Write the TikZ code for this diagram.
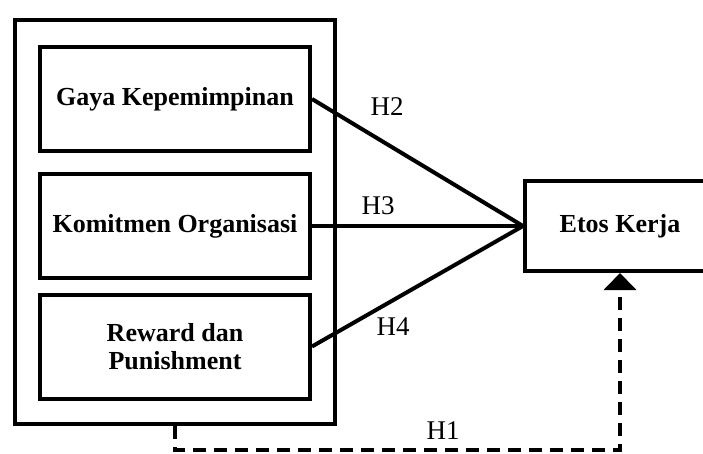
\documentclass[tikz,border=0pt]{standalone}
\usepackage{fontspec}
\setmainfont{Liberation Serif}
\usetikzlibrary{arrows.meta}

\begin{document}
\begin{tikzpicture}[x=1pt,y=-1pt,line width=4pt,
  box/.style={draw,line width=4pt,inner sep=0pt,align=center,
    font=\bfseries\fontsize{26}{28}\selectfont},
  hyp/.style={font=\fontsize{27}{29}\selectfont},
  dash line/.style={dash pattern=on 13pt off 8pt}]

\clip (0,0) rectangle (703,453);

% group of independent variables
\node[box,minimum width=320pt,minimum height=404pt] (grp) at (175,222) {};
\node[box,minimum width=270pt,minimum height=104pt] (gaya) at (175,99) {Gaya Kepemimpinan};
\node[box,minimum width=270pt,minimum height=104pt] (komit) at (175,226) {Komitmen Organisasi};
\node[box,minimum width=270pt,minimum height=104pt] (reward) at (175,346.5) {Reward dan\\Punishment};

\node[box,minimum width=190pt,minimum height=90pt] (etos) at (620,226) {Etos Kerja};

\draw (gaya.east) -- (etos.west);
\draw (komit.east) -- (etos.west);
\draw (reward.east) -- (etos.west);

\node[hyp] (h2) at (387,107) {H2};
\node[hyp] (h3) at (378,206) {H3};
\node[hyp] (h4) at (393,327) {H4};
\node[hyp] (h1) at (443,431) {H1};

\draw[dash line,-{Triangle[width=32pt,length=17pt]}] (grp.south) -- ++(0,24) coordinate (turn) -| (etos.south);

\end{tikzpicture}
\end{document}
